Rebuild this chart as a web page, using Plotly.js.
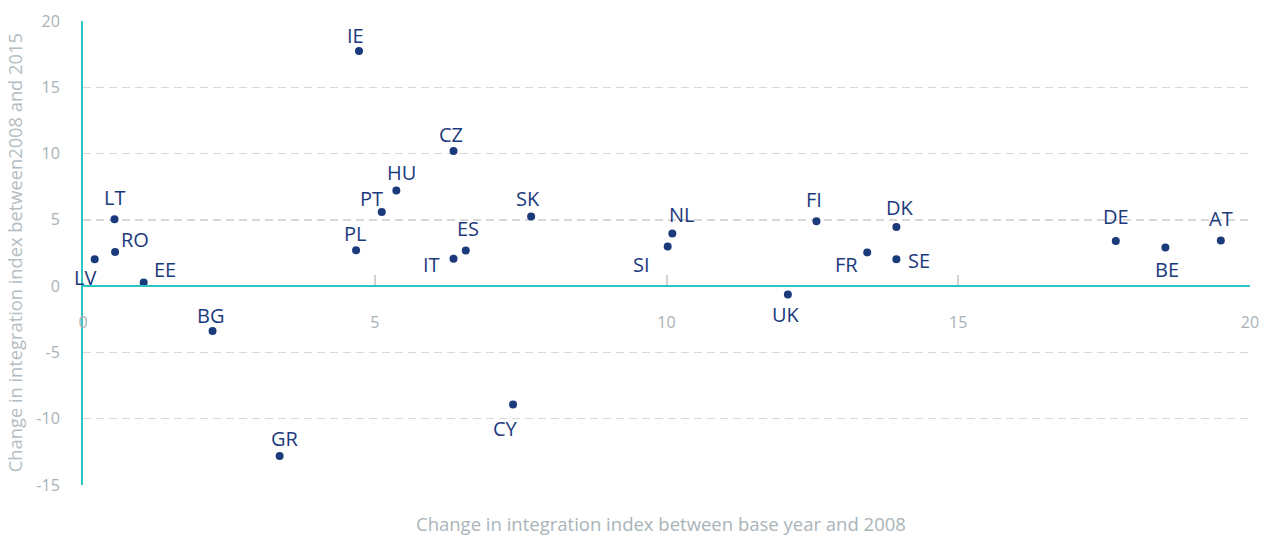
<!DOCTYPE html>
<html>
<head>
<meta charset="utf-8">
<script src="https://cdn.plot.ly/plotly-3.0.1.min.js"></script>
<style>
  html, body { margin: 0; padding: 0; background: #fff; }
  #chart { width: 1264px; height: 537px; }
</style>
</head>
<body>
<div id="chart"></div>
<script>
// ---- data ----
var countries = ["LV","LT","RO","EE","BG","IE","HU","PT","PL","CZ","SK","ES","IT","NL","SI","UK","FI","DK","FR","SE","DE","BE","AT","GR","CY"];
var changeBaseTo2008 = [0.20,0.54,0.55,1.04,2.22,4.73,5.37,5.12,4.68,6.35,7.68,6.56,6.35,10.10,10.02,12.08,12.57,13.94,13.44,13.94,17.70,18.55,19.50,3.37,7.37];
var change2008To2015 = [2.03,5.05,2.58,0.28,-3.39,17.73,7.21,5.60,2.71,10.20,5.25,2.69,2.06,3.97,2.99,-0.63,4.90,4.47,2.54,2.03,3.41,2.92,3.44,-12.81,-8.92];
var xTicks = [0,5,10,15,20];
var xTickLabels = ["0","5","10","15","20"];
var yTicks = [-15,-10,-5,0,5,10,15,20];
var yTickLabels = ["-15","-10","-5","0","5","10","15","20"];
var xTitle = "Change in integration index between base year and 2008";
var yTitle = "Change in integration index between2008 and 2015";

// label placement (screen px offsets of label centre from its point)
var labelDx = [-10,0,20,21,-2,-4,5,-10,-1,-3,-3,2,-22,10,-26,-2,-2,4,-21,23,0,2,0,5,-8];
var labelDy = [18,-22,-12,-13,-16,-16,-18,-13,-16.5,-16,-18,-21.5,5.5,-19,18,20,-22,-19,12,1,-24,22,-22,-17,24];

var navy = "#1b3a7c";
var teal = "#2fc4c2";
var tickGray = "#a7b2b7";
var fontFam = "'Open Sans', 'Noto Sans', sans-serif";

var trace = {
  type: "scatter",
  mode: "markers",
  x: changeBaseTo2008,
  y: change2008To2015,
  marker: { color: navy, size: 8 },
  hoverinfo: "skip",
  cliponaxis: false
};

var annotations = countries.map(function (c, i) {
  return {
    x: changeBaseTo2008[i], y: change2008To2015[i],
    xref: "x", yref: "y",
    text: c, showarrow: false,
    xanchor: "center", yanchor: "middle",
    xshift: labelDx[i], yshift: -labelDy[i],
    font: { family: fontFam, size: 20, color: navy }
  };
});

annotations.push({
  xref: "paper", yref: "paper", x: 0.495, y: -0.083,
  xanchor: "center", yanchor: "middle", showarrow: false,
  text: xTitle, font: { family: fontFam, size: 18.5, color: "#a9b4b9" }
});
annotations.push({
  xref: "paper", yref: "paper", x: -0.059, y: 0.5,
  xanchor: "center", yanchor: "middle", showarrow: false, textangle: -90,
  text: yTitle, font: { family: fontFam, size: 18.3, color: "#b3bdc2" }
});

var layout = {
  width: 1264, height: 537,
  margin: { l: 83, r: 14, t: 21, b: 52, pad: 0 },
  paper_bgcolor: "#ffffff", plot_bgcolor: "#ffffff",
  showlegend: false,
  font: { family: fontFam },
  xaxis: {
    range: [0, 20],
    anchor: "free", position: 15 / 35,
    showline: true, linecolor: teal, linewidth: 2,
    showgrid: false, zeroline: false,
    tickmode: "array", tickvals: xTicks, ticktext: xTickLabels,
    ticks: "inside", ticklen: 10, tickwidth: 2, tickcolor: "#d2d2d2",
    ticklabelstandoff: 22,
    tickfont: { family: fontFam, size: 16, color: tickGray }
  },
  yaxis: {
    range: [-15, 20],
    showline: true, linecolor: teal, linewidth: 2,
    showgrid: true, gridcolor: "#d8d8d8", gridwidth: 1.5, griddash: "8px,5px",
    zeroline: false,
    tickmode: "array", tickvals: yTicks, ticktext: yTickLabels,
    ticks: "", ticklabelstandoff: 18,
    tickfont: { family: fontFam, size: 16, color: tickGray }
  },
  annotations: annotations
};

Plotly.newPlot("chart", [trace], layout, { staticPlot: true, displayModeBar: false });
</script>
</body>
</html>
